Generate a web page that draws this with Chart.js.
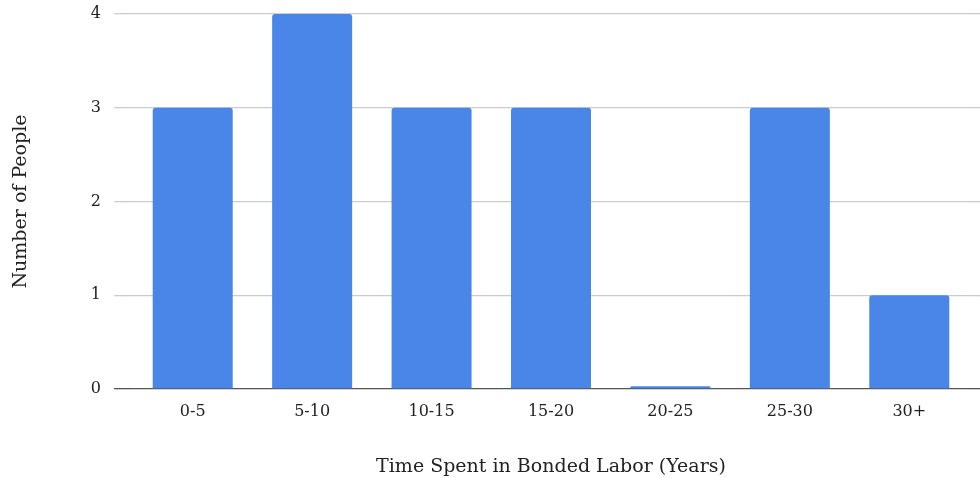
<!DOCTYPE html>
<html>
<head>
<meta charset="utf-8">
<script src="https://cdn.jsdelivr.net/npm/chart.js@4/dist/chart.umd.min.js"></script>
<style>
html,body{margin:0;padding:0;background:#fff;}
#wrap{width:980px;height:478px;position:relative;}
</style>
</head>
<body>
<div id="wrap"><canvas id="c"></canvas></div>
<script>
const categories = ["0-5", "5-10", "10-15", "15-20", "20-25", "25-30", "30+"];
const peopleCounts = [3, 4, 3, 3, 0.03, 3, 1];
const yTicks = [0, 1, 2, 3, 4];
const xTitle = "Time Spent in Bonded Labor (Years)";
const yTitle = "Number of People";

const FONT = "'DejaVu Serif', 'Liberation Serif', serif";
const gridColor = (ctx) => (ctx.tick && ctx.tick.value === 0) ? '#555555' : '#cccccc';

new Chart(document.getElementById('c'), {
  type: 'bar',
  data: {
    labels: categories,
    datasets: [{
      data: peopleCounts,
      backgroundColor: '#4a86e8',
      borderRadius: {topLeft: 3, topRight: 3, bottomLeft: 0, bottomRight: 0},
      borderSkipped: 'bottom',
      categoryPercentage: 1,
      barPercentage: 0.67
    }]
  },
  options: {
    responsive: true,
    maintainAspectRatio: false,
    animation: false,
    events: [],
    layout: {padding: {top: 14, right: 0, bottom: 0, left: 0}},
    plugins: {legend: {display: false}, tooltip: {enabled: false}},
    scales: {
      x: {
        grid: {display: false},
        border: {display: false},
        ticks: {color: '#222', font: {family: FONT, size: 16}, padding: 5},
        title: {display: true, text: xTitle, color: '#222', font: {family: FONT, size: 19}, padding: {top: 29, bottom: 0}}
      },
      y: {
        min: 0, max: 4,
        afterBuildTicks: (s) => { s.ticks = yTicks.map(v => ({value: v})); },
        grid: {color: gridColor, tickColor: gridColor, tickLength: 19, lineWidth: 1.3},
        border: {display: false},
        ticks: {color: '#222', font: {family: FONT, size: 16}, padding: 13},
        title: {display: true, text: yTitle, color: '#222', font: {family: FONT, size: 19}, padding: {top: 10, bottom: 28}},
        afterFit: (s) => { s.width = 133; s.paddingTop = 0; s.paddingBottom = 0; }
      },
      yRight: {
        position: 'right',
        min: 0, max: 4,
        afterBuildTicks: (s) => { s.ticks = yTicks.map(v => ({value: v})); },
        grid: {drawOnChartArea: false, color: gridColor, tickColor: gridColor, tickLength: 11, lineWidth: 1.3},
        border: {display: false},
        ticks: {display: false},
        afterFit: (s) => { s.paddingTop = 0; s.paddingBottom = 0; }
      }
    }
  }
});
</script>
</body>
</html>
